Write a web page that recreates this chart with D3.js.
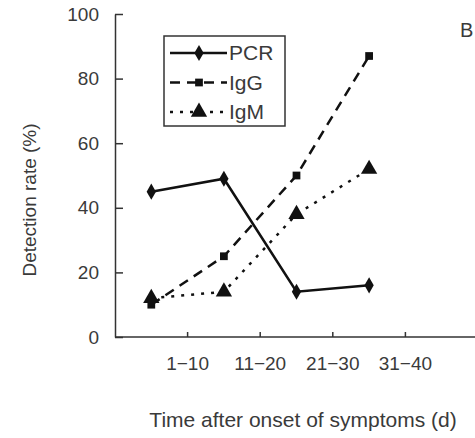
<!DOCTYPE html>
<html>
<head>
<meta charset="utf-8">
<script src="https://cdn.jsdelivr.net/npm/d3@7"></script>
<style>
  body { margin: 0; background: #fff; }
  svg { font-family: "Liberation Sans", Arial, sans-serif; }
</style>
</head>
<body>
<svg id="chart"></svg>
<script>
let categories = ["1-10", "11-20", "21-30", "31-40"];
let pcr = [45, 49, 14, 16];
let igg = [10, 25, 50, 87];
let igm = [12, 14, 38, 52];
let yTicks = [0, 20, 40, 60, 80, 100];

let width = 475;
let height = 438;
let margin = { top: 14, bottom: 101, left: 115, right: 0 };
let textColor = "#3a3a3a";

let svg = d3.select("#chart")
    .attr("width", width)
    .attr("height", height);

// five bands, the last one stays empty
let xScale = d3.scaleBand()
    .domain(categories.concat([""]))
    .range([margin.left, 478]);
let bw = xScale.bandwidth();
// tick labels sit on the band boundaries
let xTickScale = d3.scaleBand()
    .domain(categories.concat([""]))
    .range([margin.left + bw / 2, 478 + bw / 2]);

let yScale = d3.scaleLinear()
    .domain([0, 100])
    .range([height - margin.bottom, margin.top]);

let xPos = (d, i) => xScale(categories[i]) + bw / 2;

// axes
let yAxis = svg.append("g")
    .attr("transform", `translate(${margin.left},0)`)
    .call(d3.axisLeft(yScale).tickValues(yTicks).tickSize(-8).tickPadding(16).tickSizeOuter(0));
let xAxis = svg.append("g")
    .attr("transform", `translate(0,${yScale(0)})`)
    .call(d3.axisBottom(xTickScale).tickValues(categories).tickSize(-5).tickPadding(20).tickSizeOuter(0));
xAxis.select(".domain").remove();
svg.append("line")
    .attr("x1", margin.left).attr("x2", width)
    .attr("y1", yScale(0)).attr("y2", yScale(0))
    .attr("stroke", "#333").attr("stroke-width", 1.5);
[yAxis, xAxis].forEach(g => {
    g.selectAll("line").attr("stroke", "#333").attr("stroke-width", 1.5);
    g.select(".domain").attr("stroke", "#333").attr("stroke-width", 1.5);
    g.selectAll("text")
        .attr("fill", textColor)
        .style("font-size", "19px");
});
xAxis.selectAll("text").text(d => d.replace("-", "\u2212"));

// titles
svg.append("text")
    .attr("transform", `translate(36,200) rotate(-90)`)
    .attr("text-anchor", "middle")
    .attr("fill", textColor)
    .style("font-size", "19px")
    .text("Detection rate (%)");
svg.append("text")
    .attr("x", 303).attr("y", 427)
    .attr("text-anchor", "middle")
    .attr("fill", textColor)
    .style("font-size", "21px")
    .text("Time after onset of symptoms (d)");
svg.append("text")
    .attr("x", 460).attr("y", 37)
    .attr("fill", textColor)
    .style("font-size", "20px")
    .text("B");

let series = [
    { name: "PCR", values: pcr, dash: null, width: 2.5, symbol: d3.symbolDiamond, size: 75 },
    { name: "IgG", values: igg, dash: "10,7", width: 2.5, symbol: d3.symbolSquare, size: 60 },
    { name: "IgM", values: igm, dash: "3,7", width: 2.5, symbol: d3.symbolTriangle, size: 115 }
];

let line = d3.line()
    .x(xPos)
    .y(d => yScale(d));

series.forEach(s => {
    svg.append("path")
        .datum(s.values)
        .attr("d", line)
        .attr("fill", "none")
        .attr("stroke", "#111")
        .attr("stroke-width", s.width)
        .attr("stroke-dasharray", s.dash);
    svg.selectAll(null)
        .data(s.values)
        .enter().append("path")
        .attr("d", d3.symbol(s.symbol, s.size))
        .attr("transform", (d, i) => `translate(${xPos(d, i)},${yScale(d)})`)
        .attr("fill", "#111");
});

// legend
let legend = svg.append("g");
legend.append("rect")
    .attr("x", 164).attr("y", 36)
    .attr("width", 121).attr("height", 90)
    .attr("fill", "#fff")
    .attr("stroke", "#333")
    .attr("stroke-width", 1.5);
series.forEach((s, i) => {
    let y = 53 + i * 29.5;
    legend.append("line")
        .attr("x1", 170).attr("x2", 227)
        .attr("y1", y).attr("y2", y)
        .attr("stroke", "#111")
        .attr("stroke-width", s.width)
        .attr("stroke-dasharray", s.dash);
    legend.append("path")
        .attr("d", d3.symbol(s.symbol, s.size))
        .attr("transform", `translate(199,${y})`)
        .attr("fill", "#111");
    legend.append("text")
        .attr("x", 229).attr("y", y)
        .attr("dy", "0.35em")
        .attr("fill", textColor)
        .style("font-size", "21px")
        .text(s.name);
});
</script>
</body>
</html>
